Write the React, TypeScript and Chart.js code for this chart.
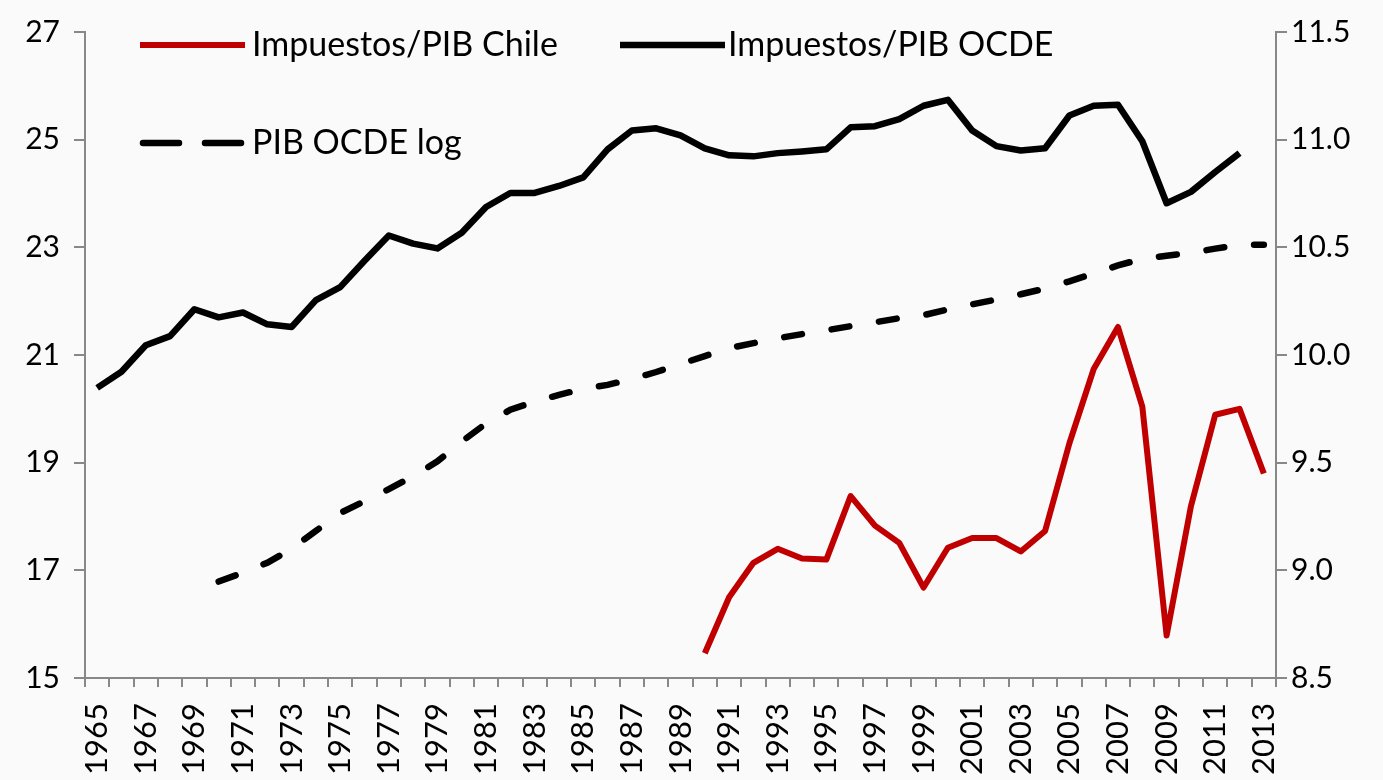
import React, { useEffect, useRef } from "react";
import { Chart, registerables } from "chart.js";

Chart.register(...registerables);

const years = [
  "1965", "1966", "1967", "1968", "1969", "1970", "1971", "1972", "1973", "1974",
  "1975", "1976", "1977", "1978", "1979", "1980", "1981", "1982", "1983", "1984",
  "1985", "1986", "1987", "1988", "1989", "1990", "1991", "1992", "1993", "1994",
  "1995", "1996", "1997", "1998", "1999", "2000", "2001", "2002", "2003", "2004",
  "2005", "2006", "2007", "2008", "2009", "2010", "2011", "2012", "2013",
];

// Impuestos/PIB Chile (left axis), 1965-2013
const chile = [
  null, null, null, null, null, null, null, null, null, null,
  null, null, null, null, null, null, null, null, null, null,
  null, null, null, null, null, 15.46, 16.5, 17.14, 17.4, 17.22,
  17.2, 18.38, 17.83, 17.51, 16.68, 17.42, 17.6, 17.6, 17.35, 17.73,
  19.36, 20.74, 21.52, 20.04, 15.79, 18.19, 19.89, 20.0, 18.8,
];

// Impuestos/PIB OCDE (left axis), 1965-2013
const ocde = [
  20.39, 20.69, 21.18, 21.35, 21.85, 21.7, 21.79, 21.57, 21.52, 22.02,
  22.26, 22.75, 23.22, 23.07, 22.98, 23.27, 23.75, 24.01, 24.01, 24.14,
  24.3, 24.82, 25.17, 25.21, 25.08, 24.84, 24.71, 24.69, 24.75, 24.78,
  24.82, 25.23, 25.25, 25.38, 25.63, 25.74, 25.17, 24.88, 24.8, 24.84,
  25.45, 25.63, 25.65, 24.97, 23.82, 24.03, 24.4, 24.75, null,
];

// PIB OCDE log (right axis), 1965-2013
const pibLog = [
  null, null, null, null, null, 8.948, 8.989, 9.035, 9.1, 9.183,
  9.266, 9.321, 9.377, 9.437, 9.506, 9.598, 9.682, 9.746, 9.783, 9.815,
  9.843, 9.861, 9.889, 9.921, 9.958, 9.995, 10.032, 10.055, 10.078, 10.097,
  10.115, 10.134, 10.152, 10.171, 10.185, 10.212, 10.235, 10.258, 10.282, 10.309,
  10.342, 10.379, 10.416, 10.447, 10.461, 10.475, 10.494, 10.512, 10.512,
];

const FONT = "Lato, 'Open Sans', sans-serif";
const AXIS = "#888888";

const legendPlugin = {
  id: "customLegend",
  afterDraw(chart: any) {
    const ctx = chart.ctx;
    const ds = chart.data.datasets;
    const items = [
      { i: 0, x1: 140, x2: 245, y: 45, tx: 252 },
      { i: 1, x1: 620, x2: 725, y: 45, tx: 728 },
      { i: 2, x1: 140, x2: 245, y: 143, tx: 252 },
    ];
    ctx.save();
    for (const it of items) {
      const d = ds[it.i];
      const dashed = d.borderDash && d.borderDash.length;
      ctx.strokeStyle = d.borderColor;
      ctx.lineWidth = d.borderWidth;
      ctx.lineCap = dashed ? "round" : "butt";
      ctx.setLineDash(dashed ? [36, 26] : []);
      ctx.beginPath();
      ctx.moveTo(it.x1 + (dashed ? 3 : 0), it.y);
      ctx.lineTo(it.x2 - (dashed ? 3 : 0), it.y);
      ctx.stroke();
      ctx.setLineDash([]);
      ctx.fillStyle = "#000";
      ctx.font = `34px ${FONT}`;
      ctx.textBaseline = "middle";
      ctx.textAlign = "left";
      ctx.fillText(d.label, it.tx, it.y);
    }
    ctx.restore();
  },
};

export default function App() {
  const ref = useRef<HTMLCanvasElement | null>(null);

  useEffect(() => {
    if (!ref.current) return;
    const chart = new Chart(ref.current, {
      type: "line",
      data: {
        labels: years,
        datasets: [
          {
            label: "Impuestos/PIB Chile",
            data: chile,
            borderColor: "#C00000",
            backgroundColor: "#C00000",
            borderWidth: 6,
            pointRadius: 0,
            yAxisID: "y",
            borderJoinStyle: "round",
          },
          {
            label: "Impuestos/PIB OCDE",
            data: ocde,
            borderColor: "#000000",
            backgroundColor: "#000000",
            borderWidth: 6.5,
            pointRadius: 0,
            yAxisID: "y",
            borderJoinStyle: "round",
          },
          {
            label: "PIB OCDE log",
            data: pibLog,
            borderColor: "#000000",
            backgroundColor: "#000000",
            borderWidth: 6.5,
            pointRadius: 0,
            yAxisID: "y1",
            borderDash: [18, 30],
            borderCapStyle: "round",
          },
        ],
      } as any,
      options: {
        animation: false,
        responsive: false,
        devicePixelRatio: 1,
        layout: { padding: { top: 28, left: 0, right: 0, bottom: 0 } },
        plugins: { legend: { display: false }, tooltip: { enabled: false } },
        scales: {
          x: {
            type: "category",
            offset: true,
            grid: {
              offset: true,
              drawOnChartArea: false,
              drawTicks: true,
              tickLength: 9,
              color: AXIS,
              lineWidth: 2,
            },
            border: { color: AXIS, width: 2 },
            ticks: {
              autoSkip: false,
              maxRotation: 90,
              minRotation: 90,
              padding: 16,
              color: "#000",
              font: { family: FONT, size: 31 },
              callback: (_v: any, i: number) => (i % 2 === 0 ? years[i] : ""),
            },
            afterFit: (s: any) => {
              s.height = 102;
            },
          } as any,
          y: {
            position: "left",
            min: 15,
            max: 27,
            grid: {
              drawOnChartArea: false,
              drawTicks: true,
              tickLength: 11,
              color: AXIS,
              lineWidth: 2,
            },
            border: { color: AXIS, width: 2 },
            ticks: {
              stepSize: 2,
              padding: 14,
              color: "#000",
              font: { family: FONT, size: 30 },
            },
            afterFit: (s: any) => {
              s.width = 85;
            },
          } as any,
          y1: {
            position: "right",
            min: 8.5,
            max: 11.5,
            grid: {
              drawOnChartArea: false,
              drawTicks: true,
              tickLength: 11,
              color: AXIS,
              lineWidth: 2,
            },
            border: { color: AXIS, width: 2 },
            ticks: {
              stepSize: 0.5,
              padding: 4,
              color: "#000",
              font: { family: FONT, size: 30 },
              callback: (v: any) => Number(v).toFixed(1),
            },
            afterFit: (s: any) => {
              s.width = 107;
            },
          } as any,
        },
      },
      plugins: [legendPlugin],
    });
    return () => chart.destroy();
  }, []);

  return (
    <div
      style={{
        position: "fixed",
        left: 0,
        top: 0,
        width: 1383,
        height: 780,
        background: "#fafafa",
      }}
    >
      <canvas ref={ref} width={1383} height={780} style={{ display: "block" }} />
    </div>
  );
}
